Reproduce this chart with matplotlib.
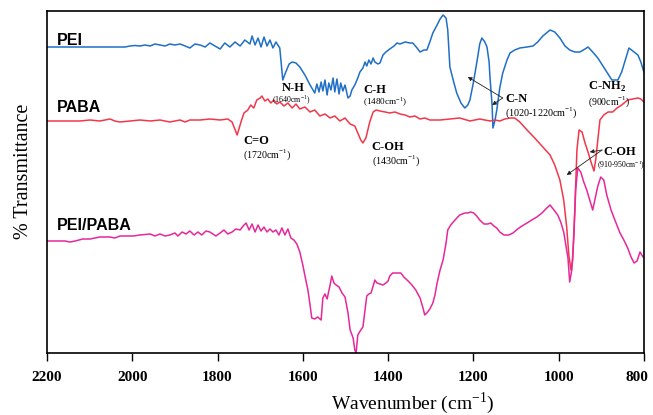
import matplotlib
matplotlib.use('Agg')
import matplotlib.pyplot as plt
from matplotlib.transforms import ScaledTranslation

plt.rcParams['mathtext.fontset'] = 'custom'
plt.rcParams['mathtext.rm'] = 'Liberation Serif'
plt.rcParams['mathtext.bf'] = 'Liberation Serif:bold'

# FTIR spectra, wavenumber (cm-1) vs offset transmittance (a.u.)
pei_wn = [2200, 2017, 2005, 1994, 1982, 1970, 1958, 1947, 1935, 1923, 1912, 1900, 1888, 1876,
          1865, 1853, 1841, 1829, 1818, 1806, 1794, 1783, 1771, 1759, 1747, 1736, 1724, 1719,
          1712, 1705, 1698, 1691, 1684, 1677, 1670, 1663, 1654, 1647, 1640, 1632, 1625, 1616,
          1607, 1595, 1583, 1576, 1572, 1567, 1562, 1557, 1553, 1548, 1543, 1539, 1534, 1529,
          1525, 1520, 1515, 1511, 1506, 1501, 1494, 1489, 1485, 1478, 1471, 1466, 1459, 1454,
          1450, 1445, 1440, 1435, 1431, 1424, 1419, 1412, 1405, 1396, 1386, 1379, 1372, 1360,
          1349, 1342, 1332, 1325, 1316, 1309, 1302, 1295, 1285, 1278, 1271, 1264, 1260, 1255,
          1246, 1239, 1229, 1220, 1213, 1208, 1201, 1196, 1189, 1185, 1180, 1173, 1168, 1163,
          1161, 1156, 1154, 1149, 1145, 1138, 1131, 1121, 1114, 1103, 1091, 1074, 1060, 1049,
          1037, 1020, 1009, 997, 985, 974, 962, 950, 938, 931, 920, 908, 896, 884, 875, 861,
          852, 842, 835, 826, 814, 807, 800]
pei_t = [306, 306, 307, 307.5, 307, 308, 307, 309, 308, 307, 309, 308, 309, 307,
         305, 309, 308, 306, 310, 307, 304, 310, 306, 311, 307, 313, 309, 317,
         308, 315, 306, 316, 307, 313, 305, 311, 305, 273, 281, 289, 291, 290,
         286, 278, 268, 263, 260, 269, 261, 271, 262, 273, 258, 270, 263, 275,
         261, 274, 259, 270, 262, 268, 255, 257, 263, 268, 275, 281, 285, 291,
         287, 293, 289, 295, 291, 289, 290, 298, 301, 304, 307, 310, 309, 311,
         310, 310, 305, 301, 303, 303, 311, 320, 328, 334, 338, 335, 323, 286,
         271, 260, 250, 245, 248, 253, 268, 280, 298, 309, 315, 311, 306, 291,
         276, 248, 225, 233, 243, 265, 280, 293, 300, 303, 305, 306, 307, 311,
         317, 323, 321, 315, 307, 303, 301, 301, 304, 306, 301, 295, 287, 279, 273, 273,
         281, 295, 305, 302, 298, 291, 281]

paba_wn = [2200, 2123, 2099, 2076, 2052, 2041, 2029, 2005, 1982, 1958, 1935, 1912, 1888, 1876,
           1865, 1841, 1818, 1794, 1776, 1766, 1754, 1745, 1738, 1729, 1722, 1715, 1708, 1700,
           1696, 1689, 1682, 1675, 1668, 1661, 1654, 1644, 1635, 1625, 1616, 1607, 1595, 1583,
           1572, 1560, 1548, 1536, 1525, 1513, 1501, 1489, 1478, 1471, 1464, 1459, 1452, 1443,
           1435, 1428, 1419, 1407, 1396, 1384, 1372, 1360, 1349, 1337, 1325, 1314, 1302, 1278,
           1255, 1232, 1208, 1185, 1161, 1149, 1138, 1126, 1114, 1103, 1091, 1074, 1056, 1037,
           1020, 1009, 997, 988, 981, 976, 971, 967, 962, 957, 952, 945, 938, 931, 924, 917,
           913, 908, 903, 894, 884, 873, 863, 852, 838, 826, 814, 807, 800]
paba_t = [232, 232, 233, 232, 234, 232, 231, 232, 233, 232, 233, 231, 233, 231,
          233, 233, 234, 233, 234, 231, 218, 231, 240, 243, 248, 245, 253, 255,
          257, 252, 254, 250, 253, 249, 251, 247, 250, 245, 249, 244, 246, 241,
          243, 237, 239, 235, 237, 232, 235, 229, 227, 220, 213, 210, 215, 231,
          241, 243, 242, 241, 240, 241, 239, 238, 236, 237, 234, 235, 233, 233,
          234, 235, 232, 234, 232, 233, 232, 234, 235, 235, 231, 223, 215, 206,
          198, 188, 173, 153, 126, 98, 83, 93, 143, 203, 223, 221, 210, 201, 191, 182,
          193, 213, 233, 238, 241, 241, 245, 248, 253, 254, 255, 254, 251]

mix_wn = [2200, 2158, 2146, 2134, 2116, 2099, 2076, 2052, 2041, 2029, 1998, 1982, 1958, 1947,
          1935, 1923, 1912, 1900, 1893, 1883, 1874, 1865, 1855, 1846, 1837, 1827, 1818, 1811,
          1804, 1794, 1785, 1776, 1766, 1757, 1747, 1740, 1733, 1726, 1719, 1712, 1705, 1698,
          1691, 1684, 1677, 1670, 1663, 1656, 1649, 1642, 1635, 1628, 1621, 1614, 1607, 1600,
          1593, 1588, 1583, 1579, 1572, 1565, 1557, 1553, 1548, 1543, 1536, 1532, 1527, 1522,
          1515, 1508, 1501, 1494, 1489, 1482, 1478, 1475, 1471, 1464, 1459, 1454, 1450, 1445,
          1440, 1435, 1431, 1426, 1419, 1412, 1405, 1400, 1396, 1389, 1379, 1370, 1363, 1353,
          1344, 1335, 1325, 1318, 1314, 1309, 1302, 1295, 1290, 1285, 1278, 1271, 1264, 1260,
          1253, 1243, 1232, 1220, 1213, 1206, 1199, 1192, 1185, 1175, 1166, 1159, 1152, 1145,
          1138, 1128, 1117, 1107, 1096, 1086, 1074, 1063, 1051, 1039, 1030, 1020, 1011, 1002,
          995, 988, 983, 978, 974, 969, 964, 960, 955, 948, 941, 934, 927, 920, 915, 908,
          901, 894, 887, 877, 868, 856, 847, 838, 830, 823, 816, 809, 802]
mix_t = [112, 112, 111, 112, 114, 114, 116, 116, 115, 117, 117, 118, 119, 117,
         119, 117, 118, 120, 117, 121, 119, 122, 118, 121, 118, 122, 121, 119,
         117, 120, 123, 119, 121, 124, 123, 127, 130, 123, 129, 121, 128, 122,
         126, 121, 124, 121, 123, 118, 125, 118, 124, 115, 113, 109, 101, 88,
         73, 63, 48, 35, 34, 36, 33, 55, 59, 54, 68, 77, 70, 68,
         66, 60, 56, 40, 23, 15, 3, 0, 18, 23, 26, 43, 57, 59,
         60, 67, 73, 70, 69, 68, 70, 72, 77, 80, 80, 80, 76, 72,
         68, 63, 55, 45, 38, 40, 44, 50, 58, 70, 83, 93, 110, 123,
         128, 133, 138, 140, 140, 141, 140, 137, 133, 129, 129, 130, 127, 125,
         121, 118, 118, 120, 124, 127, 130, 133, 136, 140, 144, 148, 143, 138,
         131, 121, 108, 95, 71, 83, 118, 163, 185, 181, 171, 163, 153, 143, 153, 167,
         176, 173, 158, 143, 133, 120, 113, 105, 96, 90, 92, 101, 96]

fig = plt.figure(figsize=(6.53, 4.15), dpi=100)
ax = fig.add_axes([0.072, 0.1494, 0.914, 0.8241])

ax.plot(pei_wn, pei_t, color='#1f6fc6', lw=1.1)
ax.plot(paba_wn, paba_t, color='#f2374b', lw=1.1)
ax.plot(mix_wn, mix_t, color='#e6289a', lw=1.1)

ax.set_xlim(2200, 800)
ax.set_ylim(0, 342)
ax.set_xticks([2200, 2000, 1800, 1600, 1400, 1200, 1000, 800])
ax.set_yticks([])
ax.tick_params(axis='x', direction='out', length=6, width=1, pad=7)
for lbl in ax.get_xticklabels():
    lbl.set_fontfamily('Liberation Serif')
    lbl.set_fontweight('bold')
    lbl.set_fontsize(11)
# last label sits a little left so it stays inside the picture
last = ax.get_xticklabels()[-1]
last.set_transform(last.get_transform() + ScaledTranslation(-5 / 72, 0, fig.dpi_scale_trans))
for s in ax.spines.values():
    s.set_linewidth(1.2)

ax.set_xlabel('Wavenumber (cm$^{-1}$)', family='Liberation Serif', fontsize=14, va='center')
ax.xaxis.set_label_coords(0.613, -0.148)
ax.set_ylabel('% Transmittance', family='Liberation Serif', fontsize=14.5, va='center')
ax.yaxis.set_label_coords(-0.04, 0.53)

# series names
for txt, y in [('PEI', 312), ('PABA', 245), ('PEI/PABA', 127)]:
    ax.text(2177, y, txt, family='Liberation Sans', fontweight='bold', fontsize=11.5, va='center')

bold = dict(family='Liberation Serif', fontweight='bold', fontsize=9, va='center')
small = dict(family='Liberation Serif', va='center')

ax.text(1623, 265, 'N-H', ha='center', **bold)
ax.text(1628, 253, '(1640cm$^{-1}$)', ha='center', fontsize=5.7, **small)
ax.text(1740, 212, 'C=O', **bold)
ax.text(1740, 198, '(1720cm$^{-1}$)', fontsize=7.2, **small)
ax.text(1459, 263, 'C-H', **bold)
ax.text(1459, 251, '(1480cm$^{-1}$)', fontsize=6.6, **small)
ax.text(1438, 206, 'C-OH', **bold)
ax.text(1438, 192, '(1430cm$^{-1}$)', fontsize=7.2, **small)
ax.text(1126, 254, 'C-N', **bold)
ax.text(1126, 240, '(1020-1220cm$^{-1}$)', fontsize=7.3, **small)
ax.text(931, 266, 'C-NH$_\\mathbf{2}$', **bold)
ax.text(931, 251, '(900cm$^{-1}$)', fontsize=7.0, **small)
ax.text(896, 201, 'C-OH', **bold)
ax.text(910, 188, '(910-950cm$^{-1}$)', fontsize=5.6, **small)

arrow = dict(arrowstyle='-|>', lw=0.6, color='#222222', mutation_scale=6, shrinkA=0, shrinkB=0)
ax.annotate('', xy=(1213, 276), xytext=(1131, 255), arrowprops=arrow)
ax.annotate('', xy=(1156, 248), xytext=(1131, 255), arrowprops=arrow)
ax.annotate('', xy=(981, 178), xytext=(898, 203), arrowprops=arrow)
ax.annotate('', xy=(927, 201), xytext=(898, 203), arrowprops=arrow)

fig.savefig('out.png', dpi=100)
